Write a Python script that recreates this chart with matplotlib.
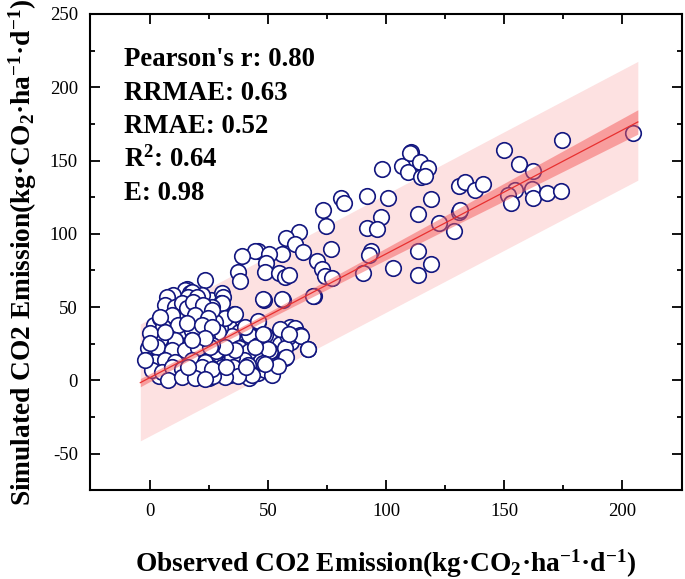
import matplotlib
matplotlib.use("Agg")
import matplotlib.pyplot as plt

plt.rcParams['font.family'] = 'Liberation Serif'
plt.rcParams['mathtext.fontset'] = 'custom'
plt.rcParams['mathtext.rm'] = 'Liberation Serif'
plt.rcParams['mathtext.bf'] = 'Liberation Serif:bold'
plt.rcParams['mathtext.default'] = 'bf'
plt.rcParams['axes.unicode_minus'] = False

# scattered points (observed, simulated)
high_obs = [98.2, 106.8, 109.4, 110.5, 110.0, 114.2, 114.9, 117.9, 116.5, 118.9,
            100.8, 92.0, 80.8, 82.3, 73.4, 74.7, 97.9, 92.0, 96.0, 113.6,
            122.4, 128.9, 130.9, 131.3, 130.7, 133.5, 137.8, 141.1, 149.9, 156.4,
            162.3, 154.5, 151.7, 153.0, 161.9, 162.3, 167.9, 174.0, 174.4, 204.3,
            113.6, 93.8, 92.8, 103.1, 119.2, 113.6, 90.4, 63.1, 57.9, 61.5,
            65.0, 56.1, 45.9, 44.6, 50.5, 39.2, 49.2, 48.7, 70.9, 72.8,
            76.9, 74.1, 77.1, 54.8, 57.1, 58.9, 37.5, 38.4, 23.4, 69.5,
            48.3, 56.6]
high_sim = [144.2, 146.3, 142.2, 156.1, 154.9, 149.3, 138.7, 144.7, 139.3, 124.0,
            124.7, 126.0, 124.7, 121.0, 116.1, 105.3, 111.3, 103.7, 103.2, 113.4,
            107.3, 102.2, 114.6, 116.4, 132.3, 135.4, 129.6, 134.1, 156.9, 147.5,
            142.7, 130.1, 126.5, 121.0, 130.3, 124.7, 127.8, 129.0, 164.0, 169.0,
            88.6, 88.6, 85.3, 76.7, 79.2, 71.6, 73.4, 101.2, 96.9, 93.0,
            87.8, 86.0, 88.6, 88.4, 86.0, 85.2, 80.2, 73.9, 81.7, 75.9,
            89.8, 70.9, 69.6, 73.4, 70.3, 72.1, 73.9, 67.8, 68.6, 57.7,
            55.2, 55.2]

# dense cluster, inner part first
fill_obs = [3, 7, 12, 16, 21, 26, 30, 34, 38, 42, 46, 50, 54,
            2, 6, 11, 15, 20, 24, 28, 33, 37, 44, 47, 52,
            4, 10, 16, 21, 25, 29, 34, 39, 42, 46, 49,
            8, 13, 20, 27, 32, 36, 40, 44, 52, 55, 60,
            9, 14, 20, 29, 33, 38, 42, 12, 8, 22, 26, 22, 12, 35, 30, 18, 2,
            38, 42, 46, 51, 40, 35, 28, 19, 13, 7, 3]
fill_sim = [17, 18, 16, 18, 17, 16, 18, 15, 17, 16, 18, 16, 18,
            9, 10, 11, 10, 11, 10, 12, 12, 11, 13, 14, 13,
            3, 4, 5, 4, 2, 5, 4, 6, 2, 5, 7,
            30, 32, 31, 32, 28, 26, 27, 28, 27, 25, 26,
            40, 42, 40, 46, 38, 33, 31, 47, 48, 46, 55, 58, 55, 30, 36, 34, 38,
            22, 20, 24, 20, 14, 16, 20, 24, 24, 25, 30]

edge_obs = [15.8, 15.0, 17.1, 10.1, 7.3, 17.8, 16.4, 20.0, 30.6, 31.2,
            30.1, 48.1, 55.9, 69.3, 30.5, 26.3, 35.9, 31.9, 27.7, 45.8,
            40.4, 29.1, 24.2, 48.9, 55.9, 59.4, 61.5, 63.7, 58.7, 64.1,
            67.2, 57.3, 50.3, 44.6, 36.2, 31.9, 26.3, 57.3, 48.1, 41.8,
            35.4, 30.5, 25.6, 53.8, 51.7, 43.2, 37.6, 31.9, 27.0,
            6.6, 10.8, 13.6, 15.7, 18.5, 22.8, 26.3, 4.4, 9.4, 19.2, 24.9,
            5.8, 12.2, 15.7, 22.1, 26.3, 17.8, 10.8, 23.5, 0.9, 4.4,
            0.2, 6.6, -0.5, 3.0, 9.4, 15.0, 20.6, 25.6,
            -1.2, 2.3, 6.6, 10.8, 17.8, 23.5,
            0.9, 5.2, 9.4, 13.6, 17.1, 22.1, 26.3,
            8.0, 13.6, 19.2, 23.5,
            -1.9, 0.4, 4.5, 36.2, 45.9, 47.8, 55.2, 58.9, 57.9, 54.2,
            48.7, 40.7, 32.3, 16.2, 67.2, 23.6, 18.0]
edge_sim = [62.5, 61.6, 59.4, 58.2, 56.6, 60.5, 57.0, 56.6, 59.5, 56.6,
            53.1, 55.3, 55.3, 57.5, 52.6, 50.2, 45.3, 42.3, 40.0, 40.0,
            36.6, 33.2, 28.7, 30.9, 34.4, 36.6, 35.5, 30.9, 29.8, 30.4,
            21.2, 21.9, 21.2, 23.0, 20.7, 23.0, 24.1, 15.1, 11.7, 10.5,
            9.3, 9.3, 9.3, 10.5, 3.7, 3.7, 3.0, 2.1, 3.0,
            51.4, 50.2, 52.5, 49.1, 53.6, 51.4, 48.0, 42.3, 44.6, 44.6, 42.3,
            36.6, 37.8, 38.9, 37.8, 36.6, 27.5, 27.5, 27.5, 27.5, 28.5,
            32.1, 33.2, 21.9, 23.0, 20.7, 20.7, 21.9, 23.0,
            13.9, 12.7, 13.9, 12.7, 13.9, 12.7,
            7.1, 5.9, 8.9, 7.6, 7.1, 8.9, 7.6,
            0.3, 2.1, 1.4, 0.7,
            13.9, 25.8, 43.0, 45.0, 40.5, 31.6, 35.4, 31.6, 15.7, 10.1,
            11.4, 8.9, 8.9, 8.9, 21.5, 29.1, 27.8]

# fitted line with confidence / prediction bands
band_x = [-3.9, 25, 50, 100, 150, 206.5]
fit_y = [-1.5, 22.9, 44.0, 86.3, 128.5, 176.3]
conf_lo = [-4.3, 20.9, 41.7, 82.3, 122.5, 168.0]
conf_hi = [1.3, 24.9, 46.3, 90.3, 134.5, 184.6]
pred_lo = [-41.2, -16.8, 4.3, 46.5, 88.8, 136.6]
pred_hi = [38.5, 63.1, 84.4, 127.0, 169.6, 217.6]

stats = ["Pearson's r: 0.80", "RRMAE: 0.63", "RMAE: 0.52", "R$^2$: 0.64", "E: 0.98"]

fig = plt.figure(figsize=(6.85, 5.79), dpi=100)
ax = fig.add_axes([0.132, 0.153, 0.863, 0.823])

ax.fill_between(band_x, pred_lo, pred_hi, color='#fde1e1', lw=0, zorder=1)

obs = high_obs + fill_obs + edge_obs
sim = high_sim + fill_sim + edge_sim
ax.scatter(obs, sim, s=125, facecolor='white', edgecolor='#12167f', linewidth=1.2, zorder=2)

ax.fill_between(band_x, conf_lo, conf_hi, color='#f55a5a', alpha=0.5, lw=0, zorder=3)
ax.plot(band_x, fit_y, color='#e83030', lw=0.9, zorder=4)

for i, s in enumerate(stats):
    ax.text(-11, 214.3 - i * 22.8, s, fontsize=19.3, fontweight='bold', va='baseline', ha='left', zorder=5)

ax.set_xlim(-25, 225)
ax.set_ylim(-75, 250)
ax.set_xticks([0, 50, 100, 150, 200])
ax.set_yticks([-50, 0, 50, 100, 150, 200, 250])
ax.set_xticks([-25, 25, 75, 125, 175, 225], minor=True)
ax.set_yticks([-75, -25, 25, 75, 125, 175, 225], minor=True)
ax.tick_params(which='both', direction='in', top=True, right=True, width=1.3, labelsize=13.5)
ax.tick_params(which='major', length=7)
ax.tick_params(which='minor', length=3.5)
ax.tick_params(axis='x', pad=9)
ax.tick_params(axis='y', pad=9)
for sp in ax.spines.values():
    sp.set_linewidth(1.5)

ax.set_xlabel("Observed CO2 Emission(kg·CO$_2$·ha$^{-1}$·d$^{-1}$)", fontsize=19.7, fontweight='bold')
ax.set_ylabel("Simulated CO2 Emission(kg·CO$_2$·ha$^{-1}$·d$^{-1}$)", fontsize=19.7, fontweight='bold')
ax.xaxis.set_label_coords(0.5, -0.12)
ax.yaxis.set_label_coords(-0.087, 0.5)

fig.savefig("out.png", dpi=100)
